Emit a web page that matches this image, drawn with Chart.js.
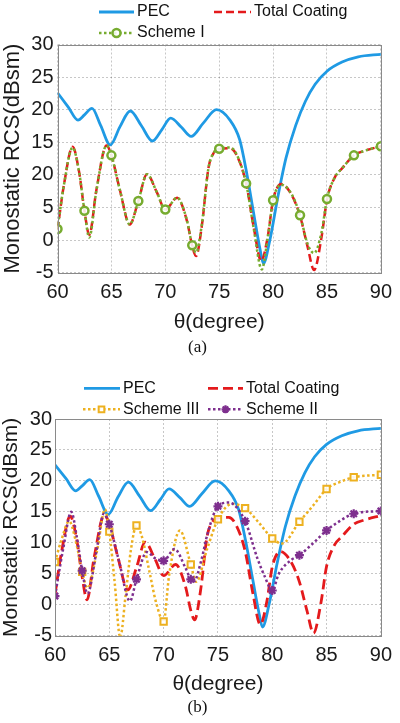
<!DOCTYPE html>
<html>
<head>
<meta charset="utf-8">
<script src="https://cdn.jsdelivr.net/npm/chart.js@4/dist/chart.umd.min.js"></script>
<style>
  html, body { margin: 0; padding: 0; background: #fff; }
  body { position: relative; width: 400px; height: 723px; overflow: hidden; }
  canvas { position: absolute; left: 0; }
  #chartA { top: 0; }
  #chartB { top: 370px; }
  .caption { position: absolute; left: -2.5px; width: 400px; text-align: center; line-height: 20px;
             font-family: "Liberation Serif", "Times New Roman", serif; font-size: 17px; color: #111; }
</style>
</head>
<body>
<canvas id="chartA" width="400" height="340"></canvas>
<div class="caption" style="top:337px">(a)</div>
<canvas id="chartB" width="400" height="330"></canvas>
<div class="caption" style="top:697px">(b)</div>
<script>
// axes
const xTicks = [60, 65, 70, 75, 80, 85, 90];
const yTicks = [-5, 0, 5, 10, 15, 20, 25, 30];
const yTickLabelsA = ['-5', '0', '5', '20', '15', '20', '25', '30']; // as printed in figure (a)
const yTickLabelsB = ['-5', '0', '5', '10', '15', '20', '25', '30'];

// PEC (same in both figures)
const thetaPEC = [60, 61, 61.9, 62.5, 63.2, 64, 64.9, 65.8, 66.75, 67.8, 68.8, 69.7, 70.5, 71.5, 72.4, 73.5, 74.75,
  76, 76.9, 77.55, 78.2, 78.8, 79.1, 79.7, 80.45, 81.2, 82.1, 83, 83.9, 85, 86.4, 87.9, 90];
const rcsPEC = [22.6, 20.4, 18.4, 19.2, 20.2, 17.6, 14.6, 17.4, 19.8, 17.5, 15.2, 17.0, 18.7, 17.3, 15.9, 17.9, 20.0,
  18.4, 15.4, 10.3, 4.1, -1.5, -3.6, 0.0, 6.7, 12.6, 17.6, 21.3, 23.9, 25.9, 27.3, 28.1, 28.5];

// Total Coating (same in both figures)
const thetaCoat = [60, 60.6, 61.4, 62, 62.5, 62.95, 63.6, 64.55, 65, 65.8, 66.7, 67.5, 68.3, 69.2, 70, 71.1, 72, 72.5,
  72.85, 73.4, 74, 74.5, 75, 76, 76.6, 77.5, 78.2, 78.9, 79.5, 80, 80.75, 81.7, 82.5, 83.2, 83.8, 84.5, 85, 85.75,
  86.4, 87.5, 88.5, 90];
const rcsCoat = [1.6, 8.5, 14.3, 10.5, 4.5, 0.8, 7.6, 14.5, 13.0, 7.6, 2.4, 6.0, 10.1, 7.4, 4.7, 6.5, 3.0, -0.9,
  -2.45, 2.3, 11.0, 13.4, 14.0, 14.1, 13.1, 8.7, 2.0, -3.2, 0.5, 6.1, 8.6, 7.0, 3.7, -1.0, -4.6, 0.5, 6.2, 9.7,
  11.0, 13.0, 13.7, 14.4];

// Scheme I (figure a)
const thetaS1 = [60, 60.6, 61.4, 62, 62.5, 62.95, 63.6, 64.55, 65, 65.8, 66.7, 67.5, 68.3, 69.2, 70, 71.1, 72, 72.5,
  72.85, 73.4, 74, 74.5, 75, 76, 76.6, 77.5, 78.2, 78.95, 79.5, 80, 80.75, 81.7, 82.5, 83.2, 83.8, 84.5, 85, 85.75,
  86.4, 87.5, 88.5, 90];
const rcsS1 = [1.7, 8.5, 14.2, 10.5, 4.5, 0.4, 7.5, 14.5, 13.0, 7.6, 2.4, 6.0, 10.1, 7.4, 4.7, 6.5, 3.1, -0.8,
  -1.9, 2.5, 11.0, 13.4, 14.0, 14.2, 13.2, 8.7, 1.8, -4.5, 0.3, 6.1, 8.5, 7.1, 3.8, -0.6, -2.0, 1.2, 6.3, 9.7,
  11.0, 13.0, 13.7, 14.4];

// Scheme III (figure b)
const thetaS3 = [60, 60.6, 61.3, 62, 62.5, 63, 63.9, 64.6, 65, 65.5, 66, 66.5, 67, 67.5, 68, 68.7, 69.3, 70, 70.5,
  71.5, 72.5, 73, 74, 75, 76.3, 77.5, 78.7, 80, 80.9, 82.5, 83.8, 85, 86.2, 87.5, 90];
const rcsS3 = [6.9, 10.5, 13.5, 9.6, 5.3, 2.7, 9.0, 15.4, 11.8, 3.5, -5.3, 1.5, 9.0, 12.8, 11.0, 5.3, 0.4, -2.7, 4.7,
  12.0, 6.5, 3.7, 9.0, 13.8, 16.3, 15.6, 13.4, 10.7, 9.9, 13.4, 16.1, 18.7, 19.8, 20.6, 21.0];

// Scheme II (figure b)
const thetaS2 = [60, 60.75, 61.5, 62, 62.5, 63, 63.8, 64.5, 65, 65.9, 66.9, 67.5, 68.45, 69.3, 70, 71, 72, 72.5,
  72.8, 73.5, 74, 75, 76, 77.5, 78.65, 79.3, 80, 80.6, 81.8, 82.5, 83.8, 85, 86.2, 87.5, 90];
const rcsS2 = [1.4, 9.0, 15.0, 11.0, 5.5, 1.8, 8.5, 14.7, 13.0, 7.0, 0.6, 4.1, 8.5, 7.4, 7.1, 9.0, 6.0, 4.1,
  3.8, 7.4, 11.2, 15.9, 16.5, 13.5, 7.4, 4.6, 2.3, 5.0, 7.3, 8.0, 10.0, 12.0, 13.5, 14.7, 15.15];

const FONT = '"Liberation Sans", Arial, sans-serif';
const BLUE = '#1f9ae4', RED = '#e41a1c', GREEN = '#77ac30', GOLD = '#edb120', PURPLE = '#7e2f8e';

const pts = (xs, ys) => xs.map((x, i) => ({ x: x, y: ys[i] }));
const onMarker = c => c.raw && Math.abs(c.raw.x / 2.5 - Math.round(c.raw.x / 2.5)) < 1e-6;

// grey box round the plot, like the matlab axes
const boxPlugin = {
  id: 'axesBox',
  afterDatasetsDraw(chart) {
    const a = chart.chartArea, ctx = chart.ctx;
    ctx.save();
    ctx.strokeStyle = '#8a8a8a';
    ctx.lineWidth = 1;
    ctx.strokeRect(Math.round(a.left) + 0.5, Math.round(a.top) + 0.5,
      Math.round(a.right - a.left), Math.round(a.bottom - a.top));
    ctx.restore();
  }
};

// two-column legend above the plot
const legendPlugin = {
  id: 'matlabLegend',
  afterDraw(chart, args, opts) {
    const ctx = chart.ctx;
    ctx.save();
    ctx.font = '16px ' + FONT;
    ctx.textBaseline = 'middle';
    (opts.items || []).forEach(it => {
      const ds = chart.data.datasets[it.index];
      ctx.strokeStyle = ds.borderColor;
      ctx.lineWidth = ds.borderWidth;
      ctx.setLineDash(ds.borderDash || []);
      ctx.beginPath();
      ctx.moveTo(it.x0, it.y);
      ctx.lineTo(it.x1, it.y);
      ctx.stroke();
      ctx.setLineDash([]);
      if (ds.pointStyle && ds.pointStyle !== 'line') {
        ctx.fillStyle = ds.pointBackgroundColor;
        ctx.strokeStyle = ds.borderColor;
        ctx.lineWidth = ds.pointBorderWidth;
        Chart.helpers.drawPoint(ctx, { pointStyle: ds.pointStyle, radius: 4, rotation: 0,
          borderWidth: ds.pointBorderWidth }, (it.x0 + it.x1) / 2, it.y);
      }
      ctx.fillStyle = '#111';
      ctx.fillText(ds.label, it.x1 + 3, it.y);
    });
    ctx.restore();
  }
};

function lineSet(label, xs, ys, color, extra) {
  return Object.assign({
    label: label,
    data: pts(xs, ys),
    borderColor: color,
    backgroundColor: color,
    borderWidth: 2.5,
    cubicInterpolationMode: 'monotone',
    pointRadius: 0,
    fill: false
  }, extra || {});
}

function makeChart(id, datasets, o) {
  return new Chart(document.getElementById(id), {
    type: 'line',
    data: { datasets: datasets },
    plugins: [boxPlugin, legendPlugin],
    options: {
      responsive: false,
      animation: false,
      devicePixelRatio: 1,
      events: [],
      layout: { padding: { top: o.top, right: o.right, left: 0, bottom: 0 } },
      plugins: {
        legend: { display: false },
        tooltip: { enabled: false },
        matlabLegend: { items: o.legend }
      },
      scales: {
        x: {
          type: 'linear', min: 60, max: 90,
          afterBuildTicks: s => { s.ticks = xTicks.map(v => ({ value: v })); },
          afterFit: s => { s.height = o.xAxisH; },
          grid: { color: 'rgba(0,0,0,0.22)', drawTicks: false },
          border: { display: false, dash: [2, 2] },
          ticks: { autoSkip: false, maxRotation: 0, padding: 8, color: '#1a1a1a',
                   font: { family: FONT, size: 20, lineHeight: 1.2 } },
          title: { display: true, text: 'θ(degree)', color: '#1a1a1a',
                   font: { family: FONT, size: 21, lineHeight: 1 }, padding: { top: 0, bottom: o.xTitlePad } }
        },
        y: {
          min: -5, max: 30,
          afterBuildTicks: s => { s.ticks = yTicks.map(v => ({ value: v })); },
          afterFit: s => { s.width = o.yAxisW; },
          grid: { color: 'rgba(0,0,0,0.22)', drawTicks: false },
          border: { display: false, dash: [2, 2] },
          ticks: { autoSkip: false, padding: o.yTickPad, color: '#1a1a1a',
                   font: { family: FONT, size: 20 },
                   callback: (v, i) => o.yLabels[i] },
          title: { display: true, text: 'Monostatic RCS(dBsm)', color: '#1a1a1a',
                   font: { family: FONT, size: o.yTitleSize, lineHeight: 1 }, padding: { top: o.yTitlePad, bottom: 0 } }
        }
      }
    }
  });
}

// figure (a)
makeChart('chartA', [
  lineSet('PEC', thetaPEC, rcsPEC, BLUE, { borderWidth: 2.8, order: 3 }),
  lineSet('Total Coating', thetaCoat, rcsCoat, RED, { borderDash: [8, 4], order: 2 }),
  lineSet('Scheme I', thetaS1, rcsS1, GREEN, {
    borderDash: [2.5, 2.5], order: 1, pointStyle: 'circle',
    pointRadius: c => onMarker(c) ? 4 : 0, pointBorderWidth: 2.5,
    pointBackgroundColor: 'rgba(255,255,255,0.85)', pointBorderColor: GREEN
  })
], {
  top: 44.5, right: 14, xAxisH: 67.3, xTitlePad: 7, yAxisW: 57.5, yTickPad: 4,
  yTitleSize: 22, yTitlePad: 1.5, yLabels: yTickLabelsA,
  legend: [
    { index: 0, x0: 99, x1: 134, y: 12 },
    { index: 1, x0: 214, x1: 251, y: 12 },
    { index: 2, x0: 99, x1: 134, y: 33 }
  ]
});

// figure (b)
makeChart('chartB', [
  lineSet('PEC', thetaPEC, rcsPEC, BLUE, { borderWidth: 2.8, order: 4 }),
  lineSet('Total Coating', thetaCoat, rcsCoat, RED, { borderWidth: 2.8, borderDash: [10, 5], order: 3 }),
  lineSet('Scheme III', thetaS3, rcsS3, GOLD, {
    borderDash: [2.5, 2.5], order: 2, pointStyle: 'rect',
    pointRadius: c => onMarker(c) ? 4.5 : 0, pointBorderWidth: 2,
    pointBackgroundColor: 'rgba(255,255,255,0.85)', pointBorderColor: GOLD
  }),
  lineSet('Scheme II', thetaS2, rcsS2, PURPLE, {
    borderDash: [2.5, 2.5], order: 1, pointStyle: 'star',
    pointRadius: c => onMarker(c) ? 4.5 : 0, pointBorderWidth: 2.2,
    pointBackgroundColor: PURPLE, pointBorderColor: PURPLE
  })
], {
  top: 49, right: 12.5, xAxisH: 64.3, xTitlePad: 5.5, yAxisW: 55, yTickPad: 3,
  yTitleSize: 21, yTitlePad: 0.5, yLabels: yTickLabelsB,
  legend: [
    { index: 0, x0: 84, x1: 120, y: 18.3 },
    { index: 1, x0: 208, x1: 243, y: 18.3 },
    { index: 2, x0: 83, x1: 120, y: 39.3 },
    { index: 3, x0: 208, x1: 243, y: 39.3 }
  ]
});
</script>
</body>
</html>
